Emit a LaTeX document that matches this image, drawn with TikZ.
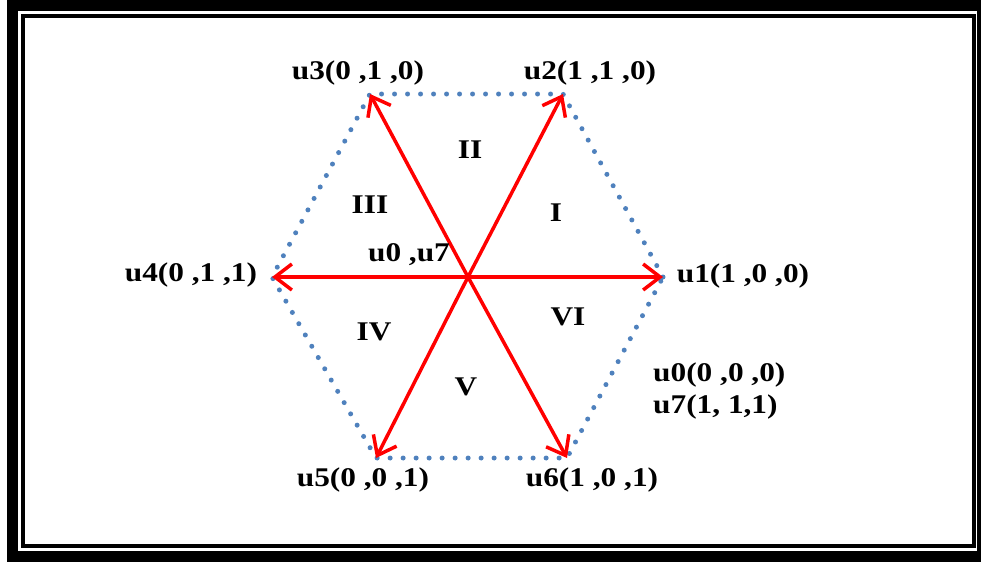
\documentclass[tikz,border=0pt]{standalone}
\usepackage{fontspec}
\setmainfont[FakeStretch=1.16]{Liberation Serif}
\usetikzlibrary{arrows.meta}
\definecolor{dotblue}{HTML}{4F81BD}
\definecolor{vecred}{HTML}{FF0000}
\begin{document}
\begin{tikzpicture}[x=1pt, y=-1pt,
        lbl/.style={font=\fontsize{27}{30}\selectfont\bfseries, inner sep=0pt},
        vec/.style={draw=vecred, line width=3.5pt,
            -{Straight Barb[length=17pt, width=26pt]}},
        hexline/.style={draw=dotblue, line width=5pt, line cap=round,
            dash pattern=on 0pt off 13pt}]
        \useasboundingbox (0,0) rectangle (981,562);
        % frame
        \draw[line width=11pt] (12.5,5) rectangle (982,556.5);
        \draw[line width=4pt] (23,16) rectangle (973.5,546);
        % hexagon corners
        \coordinate (o) at (468,277);
        \coordinate (v1) at (663,277);
        \coordinate (v2) at (563,94);
        \coordinate (v3) at (370,94);
        \coordinate (v4) at (272,277);
        \coordinate (v5) at (376,458);
        \coordinate (v6) at (567,458);
        \draw[hexline] (v1) -- (v2) -- (v3) -- (v4) -- (v5) -- (v6) -- cycle;
        % voltage vectors
        \foreach \v in {v1,v2,v3,v4,v5,v6}
            \draw[vec] (o) -- (\v);
        % vector labels
        \node[lbl] (u1) at (743,276) {u1(1 ,0 ,0)};
        \node[lbl] (u2) at (590,73) {u2(1 ,1 ,0)};
        \node[lbl] (u3) at (358,73) {u3(0 ,1 ,0)};
        \node[lbl] (u4) at (191,275) {u4(0 ,1 ,1)};
        \node[lbl] (u5) at (363,480) {u5(0 ,0 ,1)};
        \node[lbl] (u6) at (592,480) {u6(1 ,0 ,1)};
        \node[lbl, anchor=west] (u0) at (653,375) {u0(0 ,0 ,0)};
        \node[lbl, anchor=west] (u7) at (653,407) {u7(1, 1,1)};
        \node[lbl] (zero) at (409,255) {u0 ,u7};
        % sectors
        \node[lbl] (s1) at (556,213) {I};
        \node[lbl] (s2) at (470,150) {II};
        \node[lbl] (s3) at (370,205) {III};
        \node[lbl] (s4) at (374,332) {IV};
        \node[lbl] (s5) at (466,387) {V};
        \node[lbl] (s6) at (568,317) {VI};
    \end{tikzpicture}
\end{document}
